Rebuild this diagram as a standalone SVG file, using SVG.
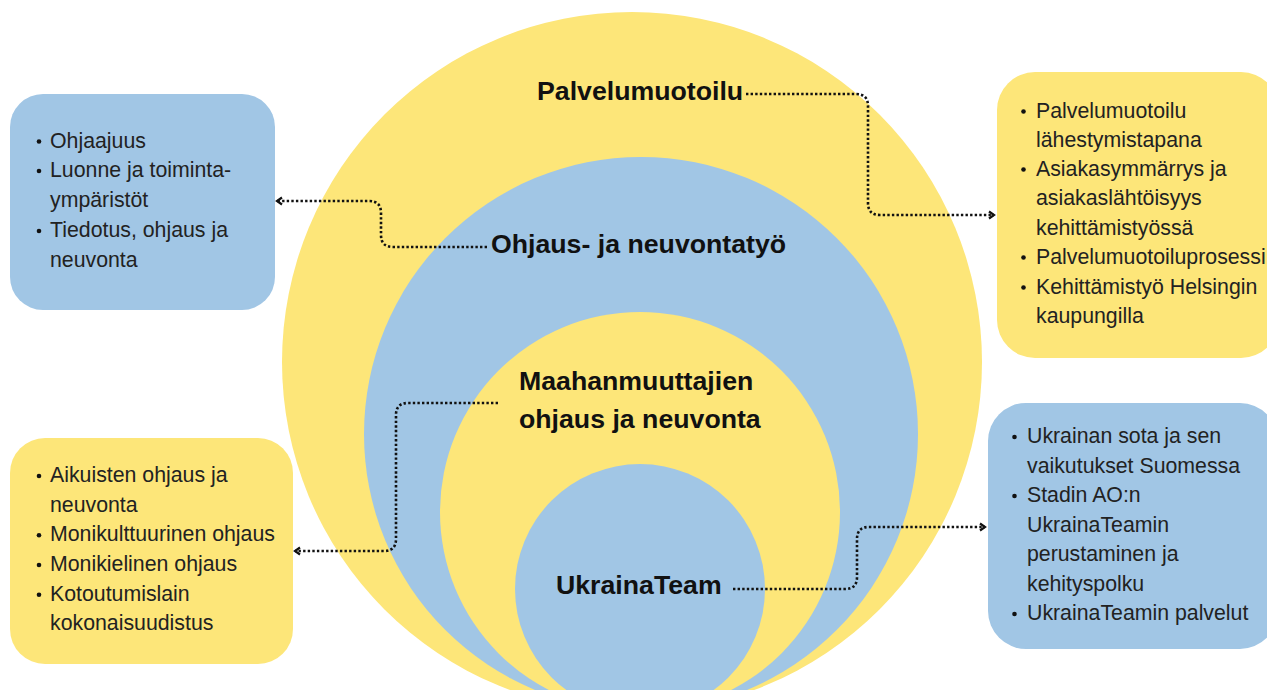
<svg xmlns="http://www.w3.org/2000/svg" width="1267" height="690" viewBox="0 0 1267 690">
<style>
.y{fill:#FDE679}
.b{fill:#A1C6E5}
.lbl{font-family:"Liberation Sans",Arial,sans-serif;font-weight:bold;font-size:26.7px;fill:#111}
.t{font-family:"Liberation Sans",Arial,sans-serif;font-size:21.3px;fill:#222}
.dot{fill:#111}
.con{fill:none;stroke:#111;stroke-width:2.6;stroke-dasharray:2.4 2.2}
</style>
<defs>
<marker id="arr" viewBox="0 0 10 10" refX="8" refY="5" markerWidth="10" markerHeight="10" markerUnits="userSpaceOnUse" orient="auto">
<path d="M3,1.5 L8,5 L3,8.5" fill="none" stroke="#111" stroke-width="2.2"/>
</marker>
</defs>
<rect width="1267" height="690" fill="#fff"/>
<g id="circle-palvelumuotoilu">
<circle class="y" cx="632" cy="362" r="350"/>
<text class="lbl" x="537" y="100">Palvelumuotoilu</text>
</g>
<g id="circle-ohjaus">
<circle class="b" cx="641" cy="434" r="277"/>
<text class="lbl" x="491" y="253">Ohjaus- ja neuvontatyö</text>
</g>
<g id="circle-maahanmuuttajien">
<circle class="y" cx="640" cy="512" r="200"/>
<text class="lbl" x="519" y="390">Maahanmuuttajien</text>
<text class="lbl" x="519" y="428">ohjaus ja neuvonta</text>
</g>
<g id="circle-ukrainateam">
<circle class="b" cx="640" cy="589" r="125"/>
<text class="lbl" x="556" y="594">UkrainaTeam</text>
</g>
<g id="box-ohjaus">
<rect class="b" x="10" y="94" width="265" height="216" rx="33"/>
<circle class="dot" cx="39" cy="141.5" r="2.3"/>
<circle class="dot" cx="39" cy="171" r="2.3"/>
<circle class="dot" cx="39" cy="231" r="2.3"/>
<text class="t" x="50" y="147.5">Ohjaajuus</text>
<text class="t" x="50" y="177.3">Luonne ja toiminta-</text>
<text class="t" x="50" y="207.1">ympäristöt</text>
<text class="t" x="50" y="236.9">Tiedotus, ohjaus ja</text>
<text class="t" x="50" y="266.7">neuvonta</text>
</g>
<g id="box-palvelumuotoilu">
<rect class="y" x="997" y="72" width="282" height="286" rx="38"/>
<circle class="dot" cx="1023.5" cy="111.5" r="2.3"/>
<circle class="dot" cx="1023.5" cy="169.5" r="2.3"/>
<circle class="dot" cx="1023.5" cy="257.5" r="2.3"/>
<circle class="dot" cx="1023.5" cy="287.5" r="2.3"/>
<text class="t" x="1036" y="117.5">Palvelumuotoilu</text>
<text class="t" x="1036" y="146.5">lähestymistapana</text>
<text class="t" x="1036" y="175.5">Asiakasymmärrys ja</text>
<text class="t" x="1036" y="205">asiakaslähtöisyys</text>
<text class="t" x="1036" y="234.5">kehittämistyössä</text>
<text class="t" x="1036" y="263.5">Palvelumuotoiluprosessi</text>
<text class="t" x="1036" y="293.5">Kehittämistyö Helsingin</text>
<text class="t" x="1036" y="323">kaupungilla</text>
</g>
<g id="box-maahanmuuttajien">
<rect class="y" x="10" y="438" width="283" height="226" rx="35"/>
<circle class="dot" cx="39" cy="476" r="2.3"/>
<circle class="dot" cx="39" cy="535.3" r="2.3"/>
<circle class="dot" cx="39" cy="565" r="2.3"/>
<circle class="dot" cx="39" cy="594.7" r="2.3"/>
<text class="t" x="50" y="482">Aikuisten ohjaus ja</text>
<text class="t" x="50" y="511.7">neuvonta</text>
<text class="t" x="50" y="541.3">Monikulttuurinen ohjaus</text>
<text class="t" x="50" y="571">Monikielinen ohjaus</text>
<text class="t" x="50" y="600.7">Kotoutumislain</text>
<text class="t" x="50" y="630.3">kokonaisuudistus</text>
</g>
<g id="box-ukrainateam">
<rect class="b" x="988" y="403" width="290" height="246" rx="38"/>
<circle class="dot" cx="1014.5" cy="437" r="2.3"/>
<circle class="dot" cx="1014.5" cy="496" r="2.3"/>
<circle class="dot" cx="1014.5" cy="614" r="2.3"/>
<text class="t" x="1027" y="443">Ukrainan sota ja sen</text>
<text class="t" x="1027" y="472.5">vaikutukset Suomessa</text>
<text class="t" x="1027" y="502">Stadin AO:n</text>
<text class="t" x="1027" y="531.5">UkrainaTeamin</text>
<text class="t" x="1027" y="561">perustaminen ja</text>
<text class="t" x="1027" y="590.5">kehityspolku</text>
<text class="t" x="1027" y="620">UkrainaTeamin palvelut</text>
</g>
<g id="connectors">
<path class="con" d="M746,94 H856 Q868,94 868,106 V203 Q868,215 880,215 H994" marker-end="url(#arr)"/>
<path class="con" d="M487,247 H393 Q381,247 381,235 V213 Q381,201 369,201 H277" marker-end="url(#arr)"/>
<path class="con" d="M498,403 H408 Q396,403 396,415 V539 Q396,551 384,551 H295" marker-end="url(#arr)"/>
<path class="con" d="M733,589 H845 Q857,589 857,577 V539 Q857,527 869,527 H985" marker-end="url(#arr)"/>
</g>
</svg>
